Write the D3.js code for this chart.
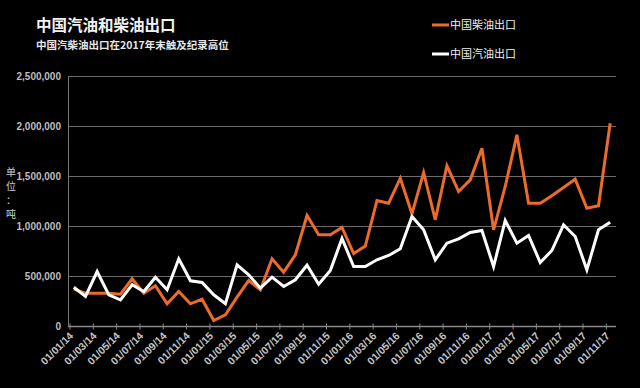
<!DOCTYPE html>
<meta charset="utf-8">
<head>
<title>中国汽油和柴油出口</title>
<script src="https://cdn.jsdelivr.net/npm/d3@7"></script>
<style>
body {
    margin: 0;
    background-color: #000;
}
text {
    font-family: 'Liberation Sans', 'Noto Sans CJK SC', sans-serif;
}
.cjk {
    font-family: 'Noto Sans CJK SC', sans-serif;
}
.grid line {
    stroke: #6b6b6b;
    stroke-width: 1px;
}
</style>
</head>
<body>
<div id="chart"></div>
<script>

var width = 640,
    height = 388;

// months 01/01/14 .. 01/11/17
var months = ["01/01/14","01/02/14","01/03/14","01/04/14","01/05/14","01/06/14","01/07/14","01/08/14","01/09/14","01/10/14","01/11/14","01/12/14",
              "01/01/15","01/02/15","01/03/15","01/04/15","01/05/15","01/06/15","01/07/15","01/08/15","01/09/15","01/10/15","01/11/15","01/12/15",
              "01/01/16","01/02/16","01/03/16","01/04/16","01/05/16","01/06/16","01/07/16","01/08/16","01/09/16","01/10/16","01/11/16","01/12/16",
              "01/01/17","01/02/17","01/03/17","01/04/17","01/05/17","01/06/17","01/07/17","01/08/17","01/09/17","01/10/17","01/11/17"];

// 中国柴油出口 (吨)
var diesel = [373000,333000,333000,333000,323000,477000,333000,407000,227000,350000,227000,273000,
              60000,117000,293000,460000,367000,677000,543000,717000,1110000,917000,917000,990000,
              730000,805000,1260000,1233000,1483000,1127000,1540000,1067000,1607000,1350000,1467000,1783000,
              967000,1400000,1917000,1233000,1233000,1307000,1390000,1473000,1183000,1207000,2033000];

// 中国汽油出口 (吨)
var gasoline = [392000,300000,550000,317000,267000,417000,350000,493000,367000,677000,457000,440000,
                317000,227000,617000,517000,383000,493000,400000,467000,613000,423000,560000,880000,
                600000,600000,667000,710000,777000,1100000,967000,667000,833000,877000,940000,960000,
                600000,1060000,833000,910000,640000,760000,1017000,900000,567000,967000,1043000];

var yTicks = [0,500000,1000000,1500000,2000000,2500000];
var xLabels = months.filter(function(d,i){return i%2==0;});

var svg = d3.select("#chart").append("svg")
            .attr("width",width)
            .attr("height",height);

var x = d3.scaleBand().domain(months).range([68,616]);
var y = d3.scaleLinear().domain([0,2500000]).range([326.5,76.5]);
var half = x.bandwidth()/2;

// grid
svg.append("g").attr("class","grid")
    .selectAll("line")
    .data(yTicks.slice(1))
    .enter().append("line")
    .attr("x1",68).attr("x2",616)
    .attr("y1",function(d){return y(d);})
    .attr("y2",function(d){return y(d);});

// axes lines
svg.append("line").attr("x1",68.5).attr("x2",68.5).attr("y1",y(2500000)).attr("y2",y(0))
    .attr("stroke","#777").attr("stroke-width",1);
svg.append("line").attr("x1",68).attr("x2",616).attr("y1",y(0)).attr("y2",y(0))
    .attr("stroke","#888").attr("stroke-width",1.5);

// y labels
svg.append("g").selectAll("text")
    .data(yTicks)
    .enter().append("text")
    .attr("x",61)
    .attr("y",function(d){return y(d)+3.5;})
    .attr("text-anchor","end")
    .attr("fill","#bdbdbd")
    .attr("font-size","10px")
    .attr("font-weight","bold")
    .text(function(d){return d3.format(",")(d);});

// x ticks + labels
var xt = svg.append("g").selectAll("g")
    .data(xLabels)
    .enter().append("g")
    .attr("transform",function(d){return "translate("+(x(d)+2)+","+y(0)+")";});
xt.append("line").attr("y1",-3).attr("y2",3).attr("stroke","#888");
xt.append("text")
    .attr("transform","translate(4,10) rotate(-45)")
    .attr("text-anchor","end")
    .attr("fill","#c4c4c4")
    .attr("font-size","10.5px")
    .attr("font-weight","bold")
    .text(function(d){return d;});

// y unit
svg.append("g").selectAll("text")
    .data(["单","位","：","吨"])
    .enter().append("text")
    .attr("class","cjk")
    .attr("x",11)
    .attr("y",function(d,i){return 176+i*14;})
    .attr("text-anchor","middle")
    .attr("fill","#cfcfcf")
    .attr("font-size","10px")
    .text(function(d){return d;});

// lines
var line = d3.line()
    .x(function(d,i){return x(months[i])+half;})
    .y(function(d){return y(d);});

svg.append("path").datum(diesel)
    .attr("d",line)
    .attr("fill","none")
    .attr("stroke","#ec6a2c")
    .attr("stroke-width",3)
    .attr("stroke-linejoin","miter");
svg.append("path").datum(gasoline)
    .attr("d",line)
    .attr("fill","none")
    .attr("stroke","#fff")
    .attr("stroke-width",3)
    .attr("stroke-linejoin","miter");

// titles
svg.append("text").attr("class","cjk")
    .attr("x",36).attr("y",31)
    .attr("fill","#f2f2f2")
    .attr("font-size","15.5px")
    .attr("font-weight","bold")
    .text("中国汽油和柴油出口");
svg.append("text").attr("class","cjk")
    .attr("x",36).attr("y",49)
    .attr("fill","#e6e6e6")
    .attr("font-size","10.5px")
    .attr("font-weight","bold")
    .text("中国汽柴油出口在2017年末触及纪录高位");

// legend
var legend = [{name:"中国柴油出口",color:"#ec6a2c",y:25},{name:"中国汽油出口",color:"#fff",y:54}];
var lg = svg.append("g").selectAll("g")
    .data(legend)
    .enter().append("g")
    .attr("transform",function(d){return "translate(432,"+d.y+")";});
lg.append("line").attr("x1",0).attr("x2",17)
    .attr("stroke",function(d){return d.color;})
    .attr("stroke-width",3);
lg.append("text").attr("class","cjk")
    .attr("x",18).attr("y",4)
    .attr("fill","#f0f0f0")
    .attr("font-size","11px")
    .text(function(d){return d.name;});

</script>
</body>
